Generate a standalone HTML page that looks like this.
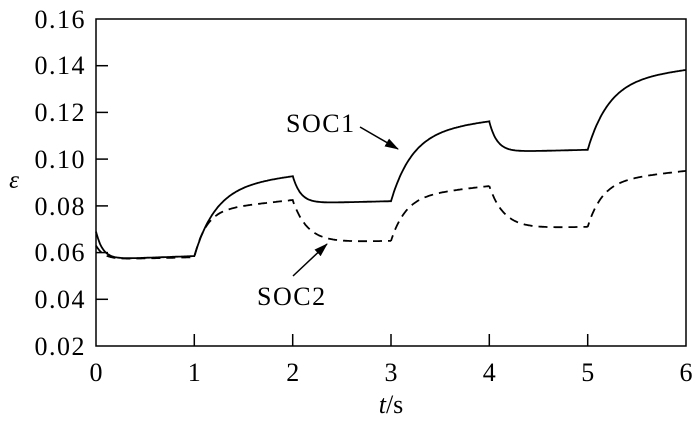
<!DOCTYPE html><html><head><style>body{margin:0;background:#fff}</style></head><body>
<svg id="s" width="700" height="424" xmlns="http://www.w3.org/2000/svg" font-family="Liberation Serif, serif">
<defs><marker id="ah" markerWidth="14" markerHeight="9" refX="13" refY="4.5" orient="auto" markerUnits="userSpaceOnUse"><path d="M0,0 L14,4.5 L0,9 Z" fill="#000"/></marker></defs>
<rect x="96" y="19" width="590" height="327" fill="none" stroke="#000" stroke-width="1.5"/>
<g stroke="#000" stroke-width="1.5">
<line x1="96" y1="299.3" x2="108" y2="299.3"/><line x1="96" y1="252.6" x2="108" y2="252.6"/><line x1="96" y1="205.9" x2="108" y2="205.9"/><line x1="96" y1="159.1" x2="108" y2="159.1"/><line x1="96" y1="112.4" x2="108" y2="112.4"/><line x1="96" y1="65.7" x2="108" y2="65.7"/>
<line x1="194.3" y1="346" x2="194.3" y2="334"/><line x1="292.7" y1="346" x2="292.7" y2="334"/><line x1="391" y1="346" x2="391" y2="334"/><line x1="489.3" y1="346" x2="489.3" y2="334"/><line x1="587.7" y1="346" x2="587.7" y2="334"/>
</g>
<g font-size="26" text-anchor="end" letter-spacing="1.5">
<text x="86" y="355">0.02</text><text x="86" y="308">0.04</text><text x="86" y="261">0.06</text><text x="86" y="215">0.08</text><text x="86" y="168">0.10</text><text x="86" y="121">0.12</text><text x="86" y="74">0.14</text><text x="86" y="28">0.16</text>
</g>
<g font-size="26" text-anchor="middle">
<text x="96" y="381">0</text><text x="194.3" y="381">1</text><text x="292.7" y="381">2</text><text x="391" y="381">3</text><text x="489.3" y="381">4</text><text x="587.7" y="381">5</text><text x="686" y="381">6</text>
<text x="391" y="413"><tspan font-style="italic">t</tspan>/s</text>
</g>
<text x="14" y="188" font-size="25" font-style="italic" text-anchor="middle">ε</text>
<path id="p1" fill="none" stroke="#000" stroke-width="1.8"/>
<path id="p2" fill="none" stroke="#000" stroke-width="1.8" stroke-dasharray="9,6"/>
<text x="286" y="132" font-size="26" letter-spacing="1.5">SOC1</text>
<line x1="360" y1="127" x2="398" y2="149" stroke="#000" stroke-width="1.5" marker-end="url(#ah)"/>
<text x="257" y="305" font-size="26" letter-spacing="1.5">SOC2</text>
<line x1="293" y1="276" x2="327" y2="244" stroke="#000" stroke-width="1.5" marker-end="url(#ah)"/>
</svg>
<script>
function X(t){return 96+t*590/6}function Y(v){return 346-(v-0.02)/0.14*327}
function build(segs){var d="";var first=true;for(var i=0;i<segs.length;i++){var g=segs[i];for(var t=g[0];t<=g[0]+1.0001;t+=0.01){var s=t-g[0];var v=g[2]+(g[1]-g[2])*Math.exp(-s/g[3])+g[4]*s;d+=(first?"M":"L")+X(t).toFixed(1)+","+Y(v).toFixed(1);first=false;}}return d}
document.getElementById("p1").setAttribute("d",build([[0,0.069,0.057,0.07,0.0015],[1,0.0585,0.0885,0.22,0.0045],[2,0.093,0.081,0.08,0.001],[3,0.082,0.112,0.22,0.0045],[4,0.116,0.103,0.08,0.001],[5,0.104,0.134,0.22,0.0045]]));
document.getElementById("p2").setAttribute("d",build([[0,0.063,0.057,0.08,0.001],[1,0.058,0.078,0.12,0.0045],[2,0.0825,0.064,0.15,0.001],[3,0.065,0.084,0.15,0.0045],[4,0.0885,0.07,0.15,0.001],[5,0.071,0.0905,0.15,0.0045]]));
</script>
</body></html>
